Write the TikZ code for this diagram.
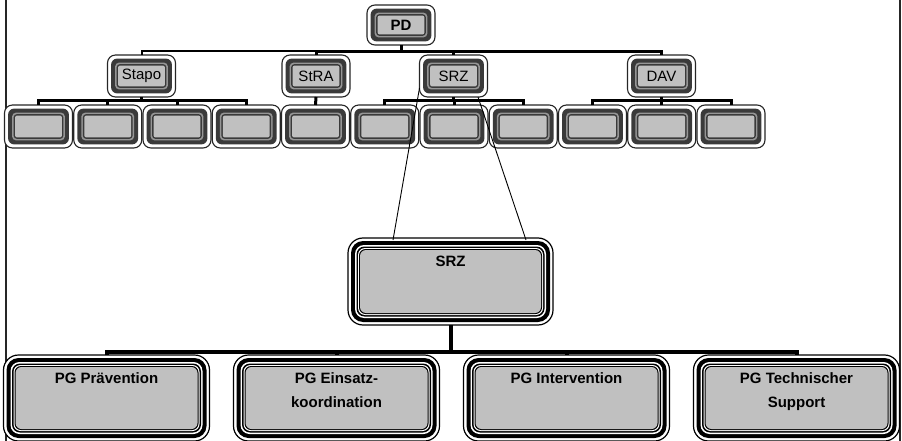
\documentclass[tikz,border=0pt]{standalone}
\usepackage{fontspec}
\setmainfont{Liberation Sans}
\definecolor{fillgrey}{RGB}{192,192,192}
\definecolor{bandgrey}{RGB}{58,58,58}
\definecolor{ringgrey}{RGB}{150,150,150}
% one inset rounded layer inside a node: inset, corner radius, colour
\newcommand\boxlayer[3]{%
  \fill[#3, rounded corners=#2]
    ([shift={(#1,#1)}]path picture bounding box.south west) rectangle
    ([shift={(-#1,-#1)}]path picture bounding box.north east);}
\tikzset{
  unitbox/.style={rectangle, rounded corners=8pt, draw=black!85, line width=1.1pt,
    fill=white, minimum width=68pt, minimum height=42pt, inner sep=0pt, outer sep=0pt,
    font=\fontsize{15}{18}\selectfont,
    path picture={\boxlayer{3.6pt}{6pt}{bandgrey}\boxlayer{7.6pt}{4pt}{ringgrey}%
      \boxlayer{9.2pt}{3pt}{bandgrey}\boxlayer{10.6pt}{2pt}{fillgrey}}},
  groupbox/.style={rectangle, rounded corners=15pt, draw=black, line width=1.2pt,
    fill=white, minimum width=206pt, minimum height=86pt, inner sep=0pt, outer sep=0pt,
    path picture={\boxlayer{3pt}{12pt}{black}\boxlayer{7pt}{9pt}{white}%
      \boxlayer{8.5pt}{8pt}{black}\boxlayer{10pt}{7pt}{white}%
      \boxlayer{11pt}{6.5pt}{black}\boxlayer{12pt}{6pt}{fillgrey}}},
  boxtitle/.style={font=\bfseries\fontsize{15}{24}\selectfont, align=center,
    anchor=north, inner sep=0pt},
  bus/.style={line width=3pt, line join=miter},
  thinbus/.style={line width=2pt, line join=miter},
  bigbus/.style={line width=4pt, line join=miter},
  zoomline/.style={line width=0.9pt},
  frameline/.style={line width=1.3pt, black!85}
}
\begin{document}
\begin{tikzpicture}[x=1pt, y=-1pt]
\useasboundingbox (0,0) rectangle (902,441);

% page frame
\draw[frameline] (6,0) -- (6,441);
\draw[frameline] (900,0) -- (900,441);

% top level
\node[unitbox, minimum height=40pt, font=\bfseries\fontsize{15}{18}\selectfont] (pd) at (401,25) {PD};

% second level
\node[unitbox] (stapo) at (141.5,76) {Stapo};
\node[unitbox] (stra)  at (316,76)   {StRA};
\node[unitbox] (srz)   at (453.5,76) {SRZ};
\node[unitbox] (dav)   at (661.5,76) {DAV};

% third level (eleven units)
\foreach \i in {1,...,11} {
  \node[unitbox, minimum height=43pt] (u\i) at ({38.5+69.25*(\i-1)},126.5) {};
}

% detail: SRZ and its project groups
\node[groupbox, minimum width=205pt, minimum height=87pt] (bigsrz) at (450.5,281.5) {};
\node[boxtitle] (bigsrzt) at ([yshift=-18pt]bigsrz.north) {SRZ};

\node[groupbox] (pg1) at (106.5,398) {};
\node[groupbox] (pg2) at (336.5,398) {};
\node[groupbox] (pg3) at (566.5,398) {};
\node[groupbox] (pg4) at (796.5,398) {};
\node[boxtitle] (pg1t) at ([yshift=-17.5pt]pg1.north) {PG Prävention};
\node[boxtitle] (pg2t) at ([yshift=-17.5pt]pg2.north) {PG Einsatz-\\koordination};
\node[boxtitle] (pg3t) at ([yshift=-17.5pt]pg3.north) {PG Intervention};
\node[boxtitle] (pg4t) at ([yshift=-17.5pt]pg4.north) {PG Technischer\\Support};

% bus rails
\coordinate (rail1) at (0,51.5);
\coordinate (rail2) at (0,100.5);
\coordinate (rail3) at (0,351.5);

% PD to second level
\draw[bus] (pd.south) -- (pd.south |- rail1);
\draw[thinbus] (stapo.north) |- (stra.north |- rail1);
\draw[bus] (stra.north) -- (stra.north |- rail1) -- (dav.north |- rail1) -- (dav.north);
\draw[bus] (srz.north) -- (srz.north |- rail1);

% Stapo units
\draw[bus] (stapo.south) -- (stapo.south |- rail2);
\draw[bus] (u1.north) |- (u4.north |- rail2) -- (u4.north);
\draw[bus] (u2.north) -- (u2.north |- rail2);
\draw[bus] (u3.north) -- (u3.north |- rail2);

% StRA unit
\draw[bus] (stra.south) -- (u5.north);

% SRZ units
\draw[bus] (srz.south) -- (srz.south |- rail2);
\draw[bus] (u6.north) |- (u8.north |- rail2) -- (u8.north);
\draw[bus] (u7.north) -- (u7.north |- rail2);

% DAV units
\draw[bus] (dav.south) -- (dav.south |- rail2);
\draw[bus] (u9.north) |- (u11.north |- rail2) -- (u11.north);
\draw[bus] (u10.north) -- (u10.north |- rail2);

% SRZ to project groups
\draw[bigbus] (bigsrz.south) -- (bigsrz.south |- rail3);
\draw[bigbus] (pg1.north) |- (pg4.north |- rail3) -- (pg4.north);
\draw[bigbus] (pg2.north) -- (pg2.north |- rail3);
\draw[bigbus] (pg3.north) -- (pg3.north |- rail3);

% zoom lines from SRZ to its detail
\draw[zoomline] ([yshift=-12pt]srz.west) -- ([xshift=45pt,yshift=-2pt]bigsrz.north west);
\draw[zoomline] ([xshift=24.5pt]srz.south) -- ([xshift=-27pt,yshift=-2pt]bigsrz.north east);
\end{tikzpicture}
\end{document}
